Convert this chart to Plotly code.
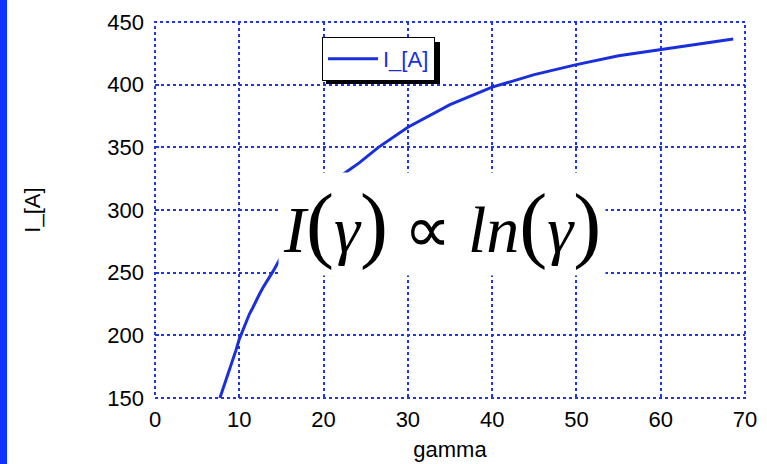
import plotly.graph_objects as go

# Measured current versus gamma
gamma = [7.7, 8.0, 8.4, 8.8, 9.2, 9.6, 10.0, 10.4, 10.8, 11.2, 11.6, 12.0,
         12.4, 12.8, 13.2, 13.6, 14.0, 15.0, 16.0, 17.0, 18.0, 19.0, 20.0,
         21.0, 22.2, 24.3, 26.5, 30.0, 35.0, 40.0, 45.0, 50.0, 55.0, 60.0,
         65.0, 68.6]
current = [150, 156, 163, 171, 180, 188, 197, 204, 210, 217, 222, 228,
           233, 238, 242, 246, 251, 263, 274, 285, 295, 304, 312,
           320, 328, 338, 350, 366, 384, 398, 408, 416, 423, 428,
           433, 436.5]

x_ticks = [0, 10, 20, 30, 40, 50, 60, 70]
y_ticks = [150, 200, 250, 300, 350, 400, 450]

BLUE = "#1a2fdc"
GRID = "#1f36e0"
SANS = "Liberation Sans, Arial, sans-serif"

fig = go.Figure()
fig.add_trace(go.Scatter(
    x=gamma, y=current, mode="lines", name="I_[A]",
    line=dict(color=BLUE, width=3),
))

axis_common = dict(
    showgrid=True, gridcolor=GRID, gridwidth=2, griddash="3px,3px",
    zeroline=False, showline=False, automargin=False,
    ticks="inside", ticklen=4, tickcolor=GRID, tickwidth=2,
    tickfont=dict(family=SANS, size=22, color="black"),
    title_font=dict(family=SANS, size=22, color="black"),
)

fig.update_xaxes(range=[0, 70], tickvals=x_ticks, title_text="gamma",
                 ticklabelstandoff=6, title_standoff=10, **axis_common)
fig.update_yaxes(range=[150, 450], tickvals=y_ticks, title_text="I_[A]",
                 ticklabelstandoff=10, title_standoff=60, **axis_common)

# dotted frame round the plotting area
fig.add_shape(type="rect", xref="paper", yref="paper", x0=0, y0=0, x1=1, y1=1,
              line=dict(color=GRID, width=2, dash="3px,3px"), layer="above")

# blue strip along the left edge of the figure
fig.add_shape(type="rect", xref="paper", yref="paper",
              x0=-155 / 590, x1=(7 - 155) / 590,
              y0=(398 - 470) / 376, y1=(398 + 6) / 376,
              line=dict(width=0), fillcolor="#0f32ff", layer="above")

# legend drop shadow
fig.add_shape(type="rect", xref="paper", yref="paper",
              x0=(326 - 155) / 590, x1=(440 - 155) / 590,
              y0=(398 - 84) / 376, y1=(398 - 42) / 376,
              line=dict(width=0), fillcolor="black", layer="above")

# proportionality relation written over the curve
big = "font-size:84px"
eq = ("<i>I</i><span style='%s'>(</span><i>γ</i><span style='%s'>)</span>"
      " ∝ <i>ln</i><span style='%s'>(</span><i>γ</i><span style='%s'>)</span>"
      % (big, big, big, big))
fig.add_annotation(
    x=(442 - 155) / 590, y=(398 - 224) / 376, xref="paper", yref="paper",
    text=eq, showarrow=False, bgcolor="white", borderpad=4,
    font=dict(family="Liberation Serif, Times New Roman, serif", size=66, color="black"),
)

fig.update_layout(
    width=767, height=464,
    margin=dict(l=155, r=22, t=22, b=66),
    paper_bgcolor="white", plot_bgcolor="white",
    showlegend=True,
    legend=dict(
        x=(322 - 155) / 590, y=(398 - 37) / 376, xanchor="left", yanchor="top",
        bgcolor="white", bordercolor="black", borderwidth=1,
        font=dict(family=SANS, size=22, color=BLUE),
        itemwidth=50, tracegroupgap=0,
    ),
)

fig.write_html("out.html")
